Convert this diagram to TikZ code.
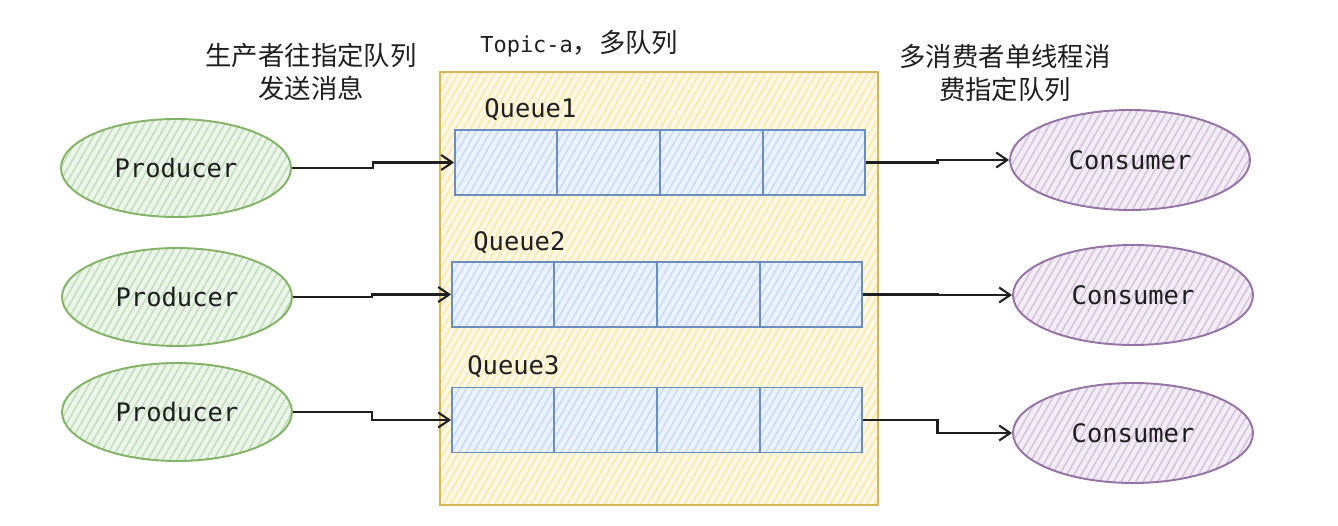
\documentclass[tikz,border=0pt]{standalone}
\usepackage{fontspec}
\setmonofont{DejaVu Sans Mono}
\newfontfamily\cjk{Noto Sans CJK SC}
\usetikzlibrary{shapes.geometric, arrows.meta, positioning, calc, patterns.meta}
\definecolor{cGreenD}{HTML}{82B366}
\definecolor{cGreenL}{HTML}{D5E8D4}
\definecolor{cGreenH}{HTML}{C2DFB8}
\definecolor{cPurpleD}{HTML}{9673A6}
\definecolor{cPurpleL}{HTML}{E1D5E7}
\definecolor{cPurpleH}{HTML}{D6C4DF}
\definecolor{cBlueD}{HTML}{6C8EBF}
\definecolor{cBlueL}{HTML}{DAE8FC}
\definecolor{cBlueH}{HTML}{C8DCF6}
\definecolor{cYellowD}{HTML}{D6B656}
\definecolor{cYellowL}{HTML}{FFF2CC}
\definecolor{cYellowH}{HTML}{FCE9A8}
\definecolor{cText}{HTML}{1F1F1F}
\tikzset{
  hatch/.style={pattern={Lines[angle=60,distance=3.6pt,line width=0.9pt]},
                pattern color=#1},
  prodnode/.style={ellipse, draw=cGreenD, line width=1.1pt,
                   preaction={fill=cGreenL!45}, hatch=cGreenH,
                   minimum width=4.6cm, minimum height=1.96cm, inner sep=0pt,
                   font=\ttfamily\fontsize{14.5}{17}\selectfont, text=cText},
  consnode/.style={prodnode, draw=cPurpleD, preaction={fill=cPurpleL!45},
                   hatch=cPurpleH, minimum width=4.8cm, minimum height=2.0cm},
  queuenode/.style={rectangle, draw=cBlueD, line width=1.1pt,
                    preaction={fill=cBlueL!55}, hatch=cBlueH,
                    minimum width=8.2cm, minimum height=1.3cm, inner sep=0pt},
  topicnode/.style={rectangle, draw=cYellowD, line width=1.1pt,
                    preaction={fill=cYellowL!50}, hatch=cYellowH,
                    minimum width=8.76cm, minimum height=8.66cm, inner sep=0pt},
  qlabel/.style={font=\ttfamily\fontsize{14.5}{17}\selectfont, text=cText,
                 inner sep=0pt, anchor=south west},
  notetext/.style={font=\cjk\fontsize{15}{18.7}\selectfont, text=cText,
                   align=center, inner sep=0pt},
  arrow/.style={-{Straight Barb[length=2.2mm,width=3mm]}, line width=1.2pt,
                color=cText}
}
\newcommand{\qcells}[1]{%
  \foreach \k in {1,2,3}
    \draw[cBlueD, line width=1.1pt]
      ($(#1.north west)!\k/4!(#1.north east)$) --
      ($(#1.south west)!\k/4!(#1.south east)$);}
\begin{document}
\begin{tikzpicture}[x=0.02cm, y=-0.02cm]
  \useasboundingbox (0,0) rectangle (1338,526);

  % topic container
  \node[topicnode] (topic) at (659,288.5) {};
  \node[text=cText, inner sep=0pt, anchor=west] (title) at (480,44)
      {\ttfamily\fontsize{12.5}{15}\selectfont Topic-a%
       {\cjk\fontsize{15}{18}\selectfont ，多队列}};

  % notes
  \node[notetext] (pnote) at (311,72) {生产者往指定队列\\发送消息};
  \node[notetext] (cnote) at (1005,73) {多消费者单线程消\\费指定队列};

  % queues
  \node[queuenode] (q1) at (660,162.5) {};
  \node[queuenode] (q2) at (657,294.5) {};
  \node[queuenode] (q3) at (657,420) {};
  \qcells{q1}
  \qcells{q2}
  \qcells{q3}
  \node[qlabel] (ql1) at (484,121) {Queue1};
  \node[qlabel] (ql2) at (473,254) {Queue2};
  \node[qlabel] (ql3) at (467,378) {Queue3};

  % producers
  \node[prodnode] (p1) at (176,168) {Producer};
  \node[prodnode] (p2) at (177,297) {Producer};
  \node[prodnode] (p3) at (177,412) {Producer};

  % consumers
  \node[consnode] (c1) at (1130,160) {Consumer};
  \node[consnode] (c2) at (1133,295) {Consumer};
  \node[consnode] (c3) at (1133,433) {Consumer};

  % connectors
  \foreach \i in {1,2,3}{
    \draw[arrow] (p\i.east) -| ($(p\i.east)!.5!(q\i.west)$) |- (q\i.west);
    \draw[arrow] (q\i.east) -| ($(q\i.east)!.5!(c\i.west)$) |- (c\i.west);
  }
\end{tikzpicture}
\end{document}
